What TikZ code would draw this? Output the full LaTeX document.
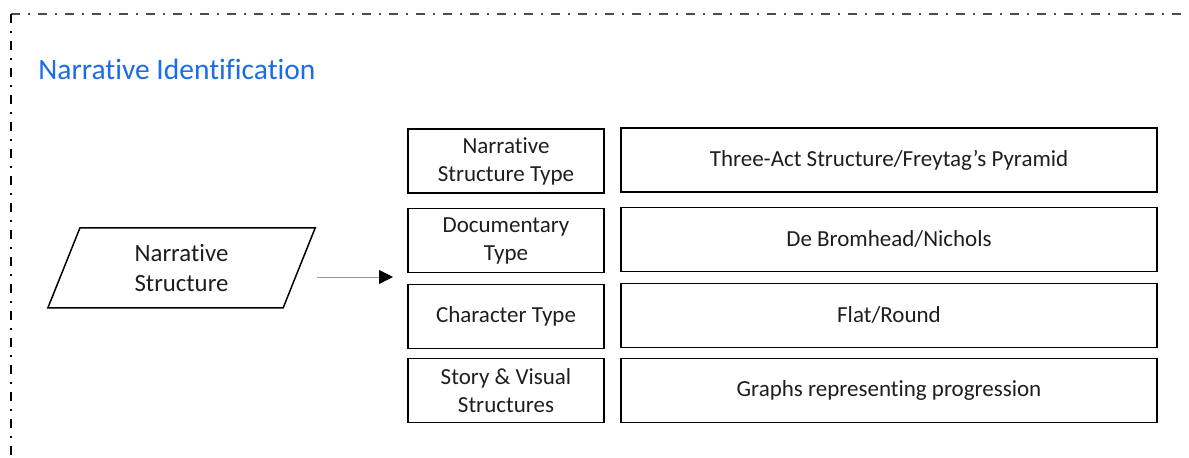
\documentclass[tikz,border=0pt]{standalone}
\usepackage{fontspec}
\setmainfont{Carlito}[RawFeature={-liga;-clig;-calt}]
\usetikzlibrary{positioning,arrows.meta,shapes.geometric}
\definecolor{titleblue}{RGB}{26,108,232}
\definecolor{inktext}{RGB}{30,30,30}

\begin{document}
\begin{tikzpicture}[
  x=0.5pt, y=-0.5pt,
  typebox/.style={draw, line width=0.75pt, minimum width=98pt, minimum height=32pt,
    inner sep=0pt, align=center, text=inktext, font=\fontsize{11.5}{14}\selectfont},
  valuebox/.style={typebox, minimum width=268pt},
  inputshape/.style={draw, line width=0.75pt, trapezium, trapezium left angle=72.6,
    trapezium right angle=107.4, trapezium stretches=true, minimum width=134.5pt,
    minimum height=40pt, inner sep=0pt, align=center, text=inktext,
    font=\fontsize{12.4}{15}\selectfont},
  framegray/.style={line width=0.8pt, black!70, dash pattern=on 4.5pt off 4pt on 0.8pt off 4.2pt},
  flow/.style={line width=0.4pt, black!40, -{Triangle[black, length=7pt, width=7pt]}},
  >=Stealth
]
  \useasboundingbox (0,0) rectangle (1189,458);

  % Dash-dot frame
  \coordinate (corner) at (11,14);
  \draw[framegray] (corner) -- (1189,14);
  \draw[framegray, black] (corner) -- (11,458);

  % Title
  \node[anchor=base west, inner sep=0pt, text=titleblue, font=\fontsize{14.75}{18}\selectfont]
    (title) at (38,80) {Narrative Identification};

  % Input
  \node[inputshape] (input) at (181.5,268) {Narrative\\Structure};
  \coordinate (arrowtip) at (393,277);
  \draw[flow, shorten <=8.5pt] (input.east |- arrowtip) -- (arrowtip);

  % Types
  \node[typebox] (narrtype) at (506,161) {Narrative\\Structure Type};
  \node[typebox] (doctype) at (506,240.5) {Documentary\\Type};
  \node[typebox] (chartype) at (506,316.5) {Character Type};
  \node[typebox] (storytype) at (506,390.5) {Story \& Visual\\Structures};

  % Values
  \node[valuebox] (narrval) at (889,160) {Three-Act Structure/Freytag’s Pyramid};
  \node[valuebox] (docval) at (889,239.5) {De Bromhead/Nichols};
  \node[valuebox] (charval) at (889,315.5) {Flat/Round};
  \node[valuebox] (storyval) at (889,390.5) {Graphs representing progression};
\end{tikzpicture}
\end{document}
